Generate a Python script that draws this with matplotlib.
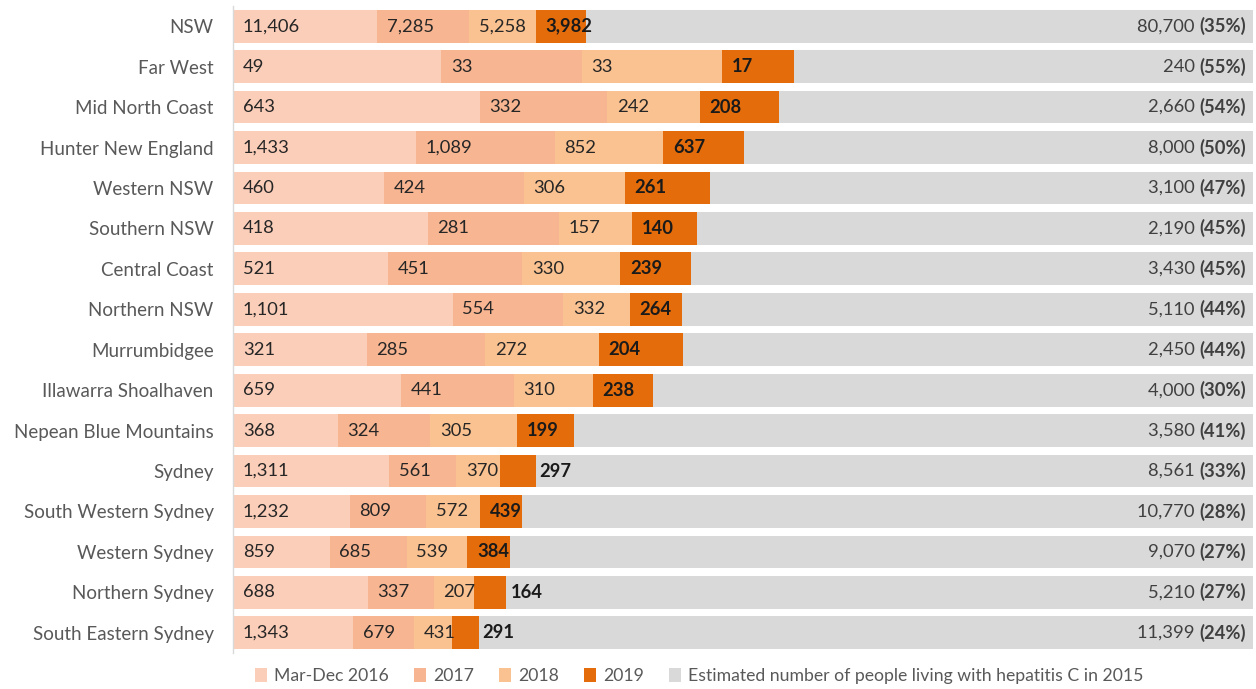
import matplotlib
matplotlib.use("Agg")
import matplotlib.pyplot as plt
from matplotlib.patches import Patch
import numpy as np

regions = ["NSW", "Far West", "Mid North Coast", "Hunter New England", "Western NSW",
           "Southern NSW", "Central Coast", "Northern NSW", "Murrumbidgee",
           "Illawarra Shoalhaven", "Nepean Blue Mountains", "Sydney",
           "South Western Sydney", "Western Sydney", "Northern Sydney",
           "South Eastern Sydney"]
y2016 = [11406, 49, 643, 1433, 460, 418, 521, 1101, 321, 659, 368, 1311, 1232, 859, 688, 1343]
y2017 = [7285, 33, 332, 1089, 424, 281, 451, 554, 285, 441, 324, 561, 809, 685, 337, 679]
y2018 = [5258, 33, 242, 852, 306, 157, 330, 332, 272, 310, 305, 370, 572, 539, 207, 431]
y2019 = [3982, 17, 208, 637, 261, 140, 239, 264, 204, 238, 199, 297, 439, 384, 164, 291]
estimated = [80700, 240, 2660, 8000, 3100, 2190, 3430, 5110, 2450, 4000, 3580, 8561,
             10770, 9070, 5210, 11399]
pct_labels = ["35%", "55%", "54%", "50%", "47%", "45%", "45%", "44%", "44%", "30%",
              "41%", "33%", "28%", "27%", "27%", "24%"]
series_names = ["Mar-Dec 2016", "2017", "2018", "2019",
                "Estimated number of people living with hepatitis C in 2015"]
colors = ["#FBCEB9", "#F7B591", "#F9C290", "#E46C0A", "#D9D9D9"]

FONT = "Lato"
plt.rcParams["font.family"] = [FONT, "DejaVu Sans"]

fig = plt.figure(figsize=(12.56, 6.89), dpi=100)
ax = fig.add_axes([233/1256, 1-653/689, 1020/1256, 647/689])

n = len(regions)
ypos = np.arange(n)
series = [np.array(y2016), np.array(y2017), np.array(y2018), np.array(y2019)]
est = np.array(estimated, dtype=float)
treated = sum(series)
gray = est - treated

VFS = 13.2
left = np.zeros(n)
h = 0.81
for k, s in enumerate(series):
    frac = s / est * 100
    ax.barh(ypos, frac, left=left, height=h, color=colors[k], edgecolor="none")
    for i in range(n):
        txt = f"{s[i]:,}"
        if k == 3:
            if frac[i] < 3.8:
                ax.annotate(txt, (left[i] + frac[i], ypos[i]), xytext=(3, 0),
                            textcoords="offset points", ha="left", va="center",
                            fontsize=VFS, fontweight="bold", color="#1a1a1a")
            else:
                ax.annotate(txt, (left[i], ypos[i]), xytext=(7, 0),
                            textcoords="offset points", ha="left", va="center",
                            fontsize=VFS, fontweight="bold", color="#1a1a1a")
        else:
            ax.annotate(txt, (left[i], ypos[i]), xytext=(7, 0),
                        textcoords="offset points", ha="left", va="center",
                        fontsize=VFS, color="#262626")
    left = left + frac
ax.barh(ypos, gray / est * 100, left=left, height=h, color=colors[4], edgecolor="none")

ax.set_xlim(0, 100)
ax.set_ylim(n - 0.5, -0.5)
ax.set_yticks(ypos)
ax.set_yticklabels(regions, fontsize=13.5, color="#595959")
ax.tick_params(axis="y", length=0, pad=14)
ax.set_xticks([])
for sp in ["top", "right", "bottom"]:
    ax.spines[sp].set_visible(False)
ax.spines["left"].set_color("#D9D9D9")
ax.spines["left"].set_linewidth(1)

# right-side labels: "80,700 " normal + "(35%)" bold
fig.canvas.draw()
renderer = fig.canvas.get_renderer()
for i in range(n):
    tb = ax.annotate(f"({pct_labels[i]})", (100, ypos[i]), xytext=(-5, 0),
                     textcoords="offset points", ha="right", va="center",
                     fontsize=VFS, fontweight="bold", color="#404040")
    w = tb.get_window_extent(renderer).width * 72 / fig.dpi
    ax.annotate(f"{estimated[i]:,} ", (100, ypos[i]), xytext=(-5 - w, 0),
                textcoords="offset points", ha="right", va="center",
                fontsize=VFS, color="#404040")

handles = [Patch(facecolor=c, edgecolor="none") for c in colors]
fig.legend(handles, series_names, loc="center", bbox_to_anchor=(699/1256, 1-676/689),
           ncol=5, frameon=False, fontsize=12.7, handlelength=0.7, handleheight=0.9,
           handletextpad=0.4, columnspacing=1.4, labelcolor="#595959")

fig.savefig("out.png", dpi=100)
